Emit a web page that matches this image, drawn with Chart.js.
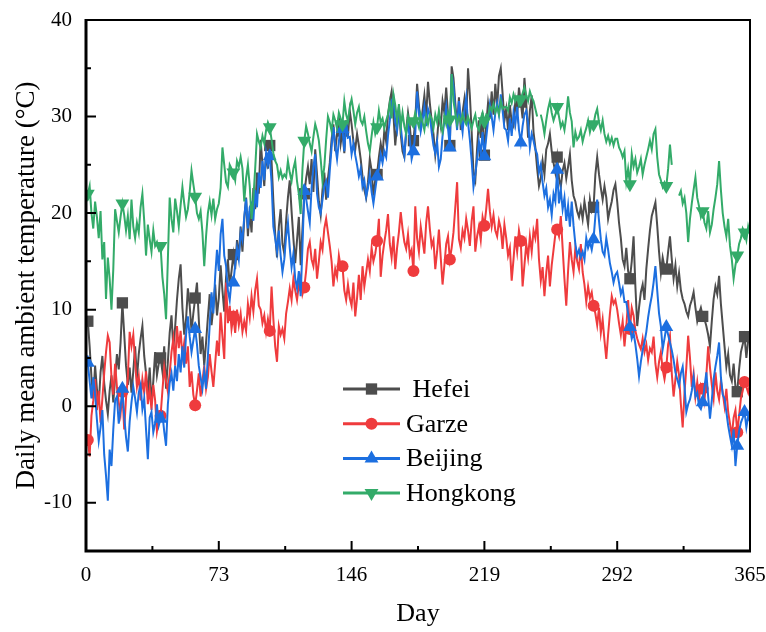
<!DOCTYPE html>
<html>
<head>
<meta charset="utf-8">
<title>Daily mean ambient temperature</title>
<script src="https://cdn.jsdelivr.net/npm/chart.js@4.4.1/dist/chart.umd.min.js"></script>
<style>
  html, body { margin: 0; padding: 0; background: #fff; }
</style>
</head>
<body>
<canvas id="tempChart" width="766" height="632"></canvas>
<script>
// Axis ticks
const dayTicks = [0, 73, 146, 219, 292, 365];
const tempTicks = [-10, 0, 10, 20, 30, 40];
// Days that carry a symbol on each curve
const markerDays = [1, 20, 41, 60, 81, 101, 120, 141, 160, 180, 200, 219, 239, 259, 279, 299, 319, 339, 358, 362];

// Daily mean temperature, day 1 .. 365 (°C)
const hefei = [
  8.8, 6.2, 3.0, 0.8, 4.2, 1.8, 0.2, 3.5, 5.2, 2.4,
  0.6, -0.8, 1.6, 3.2, 0.4, 2.9, 5.4, 3.8, 6.6, 10.7,
  7.5, 4.2, 2.2, 4.0, 1.4, 3.6, 6.2, 2.8, 5.4, 7.0,
  8.3, 5.2, 3.4, 1.2, 4.0, 0.4, 2.6, 5.6, 3.2, 4.4,
  5.0, 3.6, 6.2, 1.8, 4.6, 7.6, 9.4, 6.0, 8.2, 11.0,
  13.2, 14.7, 10.2, 7.4, 9.0, 12.2, 10.4, 7.8, 9.6, 11.2,
  12.8, 9.0, 5.4, 7.2, 4.2, 6.6, 9.2, 11.6, 8.4, 10.2,
  12.6, 9.4, 11.2, 14.6, 12.0, 9.8, 13.4, 15.2, 12.4, 14.0,
  15.7, 14.2, 17.2, 15.4, 18.6, 16.0, 19.4, 21.6, 17.6, 20.2,
  18.0, 22.6, 20.4, 24.2, 22.0, 27.6, 25.0, 22.8, 26.2, 24.6,
  27.0, 25.4, 21.2, 17.8, 15.4, 18.6, 20.4, 16.8, 15.8, 19.2,
  21.6, 23.4, 20.2, 17.4, 14.8, 17.2, 19.6, 14.6, 18.4, 22.0,
  23.6, 24.8, 23.0, 25.6, 22.2, 26.6, 24.0, 21.2, 19.8, 22.4,
  24.2, 21.4, 23.6, 25.2, 27.6, 29.2, 26.4, 28.2, 30.0, 27.2,
  28.5, 26.2, 29.6, 28.0, 30.6, 29.2, 27.4, 26.6, 28.2, 27.0,
  25.6, 23.8, 22.4, 21.6, 23.2, 25.6, 24.4, 21.8, 23.4, 24.0,
  25.8, 27.2, 26.0, 28.6, 27.4, 30.2, 31.6, 32.6, 30.2, 27.0,
  29.2, 31.0, 28.2, 26.4, 25.8, 28.6, 30.4, 29.0, 26.8, 27.5,
  29.6, 33.4, 31.2, 29.0, 30.6, 32.2, 30.0, 33.6, 31.4, 29.6,
  28.2, 26.0, 27.6, 30.2, 29.0, 31.6, 30.4, 33.0, 30.2, 27.0,
  35.2, 34.0, 31.4, 29.0, 32.0, 28.6, 30.4, 31.8, 29.2, 35.0,
  32.2, 28.4, 24.2, 23.4, 26.8, 29.6, 27.8, 30.4, 26.0, 29.2,
  31.4, 29.8, 32.6, 30.2, 33.4, 31.0, 34.2, 35.0, 32.4, 29.6,
  30.8, 28.6, 31.2, 29.4, 29.0, 31.6, 30.2, 33.0, 31.5, 29.8,
  34.0, 31.4, 27.8, 30.6, 32.2, 28.4, 26.8, 24.6, 22.8, 23.6,
  25.4, 24.0, 26.6, 27.2, 28.2, 26.4, 25.2, 24.2, 25.8, 23.6,
  22.7, 24.4, 25.2, 23.6, 24.8, 26.1, 23.4, 21.8, 21.2, 20.2,
  19.6, 20.6, 19.4, 21.2, 20.0, 18.8, 21.4, 20.2, 20.6, 24.0,
  25.8, 24.0, 22.6, 21.4, 22.8, 21.6, 19.4, 20.4, 21.2, 22.4,
  23.0, 21.2, 19.0, 17.4, 15.2, 14.5, 16.4, 14.0, 13.2, 15.0,
  17.6, 12.4, 8.3, 10.2, 11.8, 12.6, 11.0, 14.2, 16.3, 18.2,
  19.7, 20.4, 21.1, 18.7, 16.0, 13.8, 15.4, 14.4, 14.2, 16.0,
  17.6, 15.2, 13.2, 14.6, 12.4, 13.8, 12.0, 11.1, 10.6, 9.8,
  9.3, 10.4, 11.0, 11.8, 10.2, 8.8, 9.6, 10.2, 9.3, 9.0,
  8.3, 7.4, 6.2, 8.8, 11.1, 12.4, 11.6, 13.5, 10.6, 8.4,
  6.2, 4.1, 5.4, 3.2, 2.6, 4.4, 2.0, 1.5, 3.8, 5.6,
  6.4, 7.2, 5.0, 6.8, 7.0
];

const garze = [
  -3.5, -5.2, -1.0, 0.6, 2.8, -0.4, 1.6, -1.7, 0.8, 3.4,
  5.6, 7.3, 6.6, 3.0, 1.2, 4.4, 2.0, 0.4, -0.8, 1.5,
  -2.4, 0.8, 3.0, 7.7, 6.2, 7.4, 4.6, 2.0, 3.1, 0.6,
  2.8, 1.4, 3.6, 0.2, 1.8, -0.4, 2.2, 0.6, -2.6, -1.4,
  -1.0, 1.6, 4.0, 2.6, 1.5, 3.4, 5.6, 7.0, 4.2, 8.3,
  6.0, 7.8, 5.2, 6.6, 4.4, 6.2, 2.0, 3.6, 1.2, 0.1,
  1.6, 3.4, 1.0, 2.6, 4.2, 1.8, 3.0, 5.4, 3.6, 2.0,
  4.4, 6.8, 5.2, 9.7, 7.2, 4.9, 12.8, 8.6, 10.4, 8.0,
  9.3, 7.6, 10.0, 8.4, 9.6, 7.7, 8.8, 7.8, 10.6, 9.2,
  11.4, 9.8, 12.0, 13.2, 10.4, 10.0, 8.6, 9.4, 7.7, 9.0,
  7.8, 12.4, 9.0, 6.2, 4.6, 8.3, 7.4, 8.0, 7.0, 9.6,
  10.8, 12.2, 11.0, 13.2, 12.0, 11.0, 12.6, 13.4, 11.6, 12.3,
  14.0, 16.3, 17.0, 15.2, 14.5, 16.3, 13.2, 15.0, 17.0, 16.2,
  18.4, 19.4, 18.0, 16.6, 15.0, 12.4, 14.2, 13.4, 15.6, 14.4,
  14.5, 12.0, 11.0, 12.6, 11.2, 10.4, 12.8, 9.3, 11.2, 13.6,
  11.0, 14.5, 12.4, 13.8, 15.2, 14.0, 16.4, 15.0, 15.8, 17.1,
  19.4, 13.4, 15.6, 17.0, 18.2, 19.9, 16.8, 15.4, 17.6, 14.2,
  16.4, 18.0, 20.1, 18.4, 17.0, 16.3, 17.8, 15.6, 16.2, 14.0,
  20.7, 17.4, 16.0, 18.6, 17.2, 15.8, 19.0, 20.7, 18.4, 16.6,
  17.2, 14.2, 16.0, 18.3, 15.4, 12.6, 14.6, 16.8, 17.6, 15.2,
  16.4, 18.0, 20.6, 23.2, 17.3, 16.4, 18.2, 17.4, 19.4, 18.2,
  16.6, 19.2, 20.7, 16.0, 17.6, 18.6, 17.2, 19.6, 18.7, 20.4,
  22.5, 20.2, 18.6, 19.8, 18.2, 17.6, 19.2, 18.4, 16.3, 18.8,
  17.4, 15.6, 16.4, 13.0, 15.2, 17.6, 16.0, 18.2, 17.1, 12.4,
  14.6, 16.8, 15.4, 17.6, 16.0, 18.2, 17.4, 19.4, 15.2, 13.0,
  14.4, 11.4, 13.8, 15.6, 12.4, 14.6, 16.2, 17.8, 18.3, 17.6,
  19.7, 16.4, 13.2, 10.4, 14.0, 17.0, 15.2, 13.9, 16.4, 15.0,
  14.2, 16.8, 13.9, 12.6, 10.8, 12.4, 11.2, 11.8, 10.4, 9.6,
  8.4, 10.2, 7.6, 9.0, 6.8, 4.9, 7.4, 9.6, 11.4, 10.6,
  11.0, 10.0, 8.6, 7.4, 8.8, 6.2, 8.2, 11.0, 8.0, 10.2,
  9.4, 7.8, 7.0, 6.4, 5.9, 7.0, 5.6, 6.4, 4.8, 6.0,
  5.6, 7.2, 4.4, 3.0, 4.6, 5.6, 3.8, 2.8, 4.0, 6.4,
  7.3, 3.4, 1.0, 2.8, 4.6, 3.2, 0.2, -2.2, 1.4, 4.0,
  7.3, 5.0, 2.0, 3.4, 1.0, 2.5, 0.7, 2.2, 1.8, 0.6,
  3.2, 6.2, 4.0, 2.2, 0.8, 3.5, 1.6, 0.7, 2.6, 1.4,
  0.0, 1.8, -0.6, -1.8, -3.1, -1.2, -0.4, -2.7, -1.0, 0.8,
  1.6, 2.5, 2.0, 1.4, 2.4
];

const beijing = [
  4.5, 2.6, 0.8, 3.0, 1.2, -1.4, -3.6, -2.2, -0.4, -5.0,
  -7.2, -9.8, -4.5, -6.2, -2.4, 0.6, 1.0, -1.8, -0.2, 1.8,
  -1.0, -3.2, -4.7, -1.6, 0.4, 2.0, 0.8, -0.6, 1.4, 2.2,
  -0.3, 0.8, -2.4, -5.5, -1.2, -0.6, -2.7, -1.8, 0.2, -2.0,
  -1.3, -0.8, -2.6, -4.1, 0.2, 2.4, 3.4, 1.6, 4.2, 2.6,
  5.4, 3.5, 6.2, 4.0, 7.4, 9.3, 7.2, 5.6, 6.8, 8.0,
  6.4, 4.2, 3.0, 1.8, 3.6, 1.8, 5.2, 8.4, 11.8, 9.6,
  13.4, 16.2, 14.0, 17.8, 19.4, 15.6, 14.5, 12.0, 11.0, 13.0,
  12.8, 14.6, 16.4, 15.2, 18.0, 17.2, 19.6, 21.5, 18.4, 20.6,
  21.0, 19.2, 22.4, 20.6, 24.2, 22.6, 25.4, 23.4, 26.2, 25.0,
  25.9, 23.2, 18.6, 17.4, 16.0, 18.2, 15.6, 13.9, 15.2, 17.6,
  19.0, 16.4, 14.4, 15.8, 13.2, 12.2, 14.0, 11.4, 16.6, 22.3,
  21.5, 20.2, 19.0, 22.6, 24.8, 26.1, 22.0, 20.6, 20.0, 21.4,
  22.8, 23.3, 21.6, 24.4, 26.8, 28.9, 27.0, 25.6, 27.4, 29.0,
  28.7, 26.4, 29.5, 27.8, 27.9, 26.1, 27.2, 26.0, 25.0, 23.8,
  24.6, 22.7, 23.4, 21.7, 22.6, 24.0, 22.2, 21.0, 22.4, 23.8,
  24.6, 26.1, 25.2, 26.4, 25.8, 28.0, 29.6, 31.6, 32.0, 29.4,
  28.5, 30.4, 29.0, 27.2, 26.0, 28.2, 29.4, 27.6, 25.6, 26.4,
  28.2, 32.6, 30.4, 28.5, 29.6, 31.0, 29.0, 30.8, 30.2, 28.4,
  27.0, 26.2, 27.4, 24.8, 25.6, 28.0, 29.6, 31.0, 28.8, 26.8,
  34.4, 33.2, 30.6, 28.6, 31.6, 29.8, 28.4, 30.6, 32.0, 29.4,
  27.6, 25.4, 22.7, 24.0, 25.6, 27.4, 26.2, 28.4, 25.9, 27.8,
  29.5, 31.2, 30.0, 28.6, 30.4, 31.4, 30.2, 32.3, 30.6, 28.8,
  28.6, 27.5, 29.8, 28.0, 30.4, 29.2, 31.0, 28.6, 27.3, 29.0,
  30.2, 30.6, 29.4, 26.8, 28.2, 27.5, 26.6, 26.1, 24.2, 25.0,
  23.2, 21.8, 22.6, 20.6, 21.4, 19.8, 22.0, 21.2, 24.5, 21.0,
  22.4, 20.4, 21.6, 19.2, 20.8, 18.6, 21.2, 18.7, 16.8, 15.6,
  16.2, 15.4, 16.0, 15.2, 17.4, 16.4, 17.0, 16.2, 17.3, 19.7,
  21.4, 19.2, 17.3, 16.0, 15.6, 17.4, 16.2, 14.8, 13.9, 12.8,
  13.6, 13.9, 12.8, 11.6, 12.2, 10.8, 10.8, 9.6, 8.2, 7.0,
  7.6, 6.4, 4.9, 3.1, 4.6, 5.8, 6.6, 7.7, 9.2, 10.4,
  11.4, 12.8, 14.5, 12.0, 9.6, 8.3, 5.9, 7.0, 8.2, 7.4,
  6.6, 5.8, 4.8, 3.5, 2.8, 2.1, 3.4, 4.1, 2.0, -0.6,
  0.2, 0.7, 1.6, 3.0, 1.0, 1.4, 0.0, -0.3, 0.4, 2.0,
  3.5, 1.0, -1.3, 0.6, 2.8, 4.1, 5.2, 6.6, 3.0, 1.2,
  0.8, -0.6, -2.0, -3.1, -4.1, -2.4, -6.2, -4.1, -2.6, -1.7,
  -1.2, -0.6, -2.2, -1.0, -1.6
];

// null = missing record
const hongkong = [
  22.0, 22.8, 20.0, 18.4, 21.2, 19.6, 17.4, 20.2, 15.2, 17.0,
  11.1, 15.4, 13.2, 10.0, 14.2, 20.4, 19.2, 18.0, 19.6, 21.0,
  19.8, 18.2, 19.7, 17.3, 21.4, 18.6, 17.4, 19.0, 18.0, 20.6,
  22.0, 19.2, 15.6, 18.8, 17.3, 16.0, 18.2, 16.6, 17.0, 16.2,
  16.6, 13.4, 11.6, 9.0, 15.2, 21.6, 19.4, 18.0, 21.5, 20.2,
  18.6, 20.8, 22.7, 21.0, 19.6, 20.4, 22.2, 24.4, 23.0, 21.7,
  20.0, 19.4, 20.2, 18.0, 14.5, 17.6, 20.0, 21.2, 19.8, 21.5,
  19.4, 20.4, 21.0, 22.6, 26.8, 25.0, 23.2, 22.7, 25.0, 24.6,
  24.2, 23.4, 25.4, 24.8, 25.8, 24.6, 21.2, 23.6, 25.0, 22.8,
  19.4, 21.5, 24.6, 28.2, 27.4, 26.8, 28.0, 27.2, 28.6, 29.4,
  28.9, 27.6, 26.2, 25.4, 25.0, 23.7, 24.4, 23.6, 24.0, 23.7,
  25.4, 24.2, 23.3, 24.6, 25.4, 23.3, 22.0, 19.9, 24.6, 27.5,
  29.0, 28.2, 27.2, 26.4, 27.9, 29.2, 28.5, 27.5, 25.6, 23.3,
  24.8, 27.6, 30.0, 29.4, 28.5, 30.2, 29.6, 28.8, 30.4, 29.8,
  29.2, 31.6, 30.2, 29.5, 31.0, 31.8, 30.6, 29.2, 30.4, 31.0,
  29.6, 29.2, 30.0, 28.5, 27.2, 26.4, 28.0, 29.4, 28.2, 28.9,
  30.6, 29.4, 29.8, 28.8, 29.6, 30.2, 31.4, 29.8, 32.3, 31.2,
  29.6, 31.3, 28.9, 30.4, 29.0, 28.2, 30.0, 29.2, 29.5, 29.5,
  30.4, 29.6, 28.9, 30.2, 29.4, 28.6, 30.0, 29.2, 30.2, 29.8,
  28.8, 30.2, 29.4, 30.6, 29.0, 28.4, 30.0, 29.2, 30.4, 29.7,
  34.4, 31.6, 30.4, 29.2, 30.0, 29.4, 30.2, 29.6, 29.2, 30.0,
  29.4, 28.8, 29.6, 30.2, 29.0, 28.6, 29.8, 30.4, 29.5, 30.2,
  30.0, 31.0, 30.6, 31.3, 30.4, 31.0, 30.2, 31.6, 30.8, 31.0,
  31.0, 30.6, 32.0, 31.4, 32.3, 31.6, 32.0, 31.2, 31.8, 32.4,
  33.0, 32.2, 31.6, 32.6, 32.0, 31.6, 30.8, 30.0, null, 30.2,
  29.4, 28.2, 29.6, 30.8, 31.6, 30.4, 29.6, 30.2, 31.0, 30.0,
  28.9, 29.4, 28.6, 30.0, 32.1, 30.4, 29.5, 26.8, 28.4, 27.6,
  27.9, 28.6, 27.4, 28.2, 28.8, 29.6, 28.4, 29.2, 29.2, 30.2,
  30.8, 29.4, 28.6, 29.6, 28.2, 27.4, 28.0, 27.2, 27.8, 27.0,
  27.7, 27.7, 26.8, 26.4, 25.8, 26.4, 23.3, 24.6, 23.0, 26.1,
  24.8, 25.6, 24.2, 24.8, 25.6, 24.0, 25.0, 25.8, 26.6, 27.5,
  26.6, 28.2, 28.7, 25.8, 24.0, 23.4, 22.7, 23.2, 22.8, 24.6,
  27.1, 25.0, null, null, null, 21.8, 22.3, 21.0, 21.6, 20.0,
  17.0, 19.4, 21.0, 22.4, 23.7, 21.6, 20.7, 19.6, 20.2, 19.0,
  18.4, 20.2, 18.0, 18.8, 20.4, 21.6, 23.0, 25.4, 22.4, 20.0,
  18.6, 17.6, 19.4, 16.6, 15.2, 13.2, 14.6, 15.6, 16.8, 17.4,
  18.4, 18.0, 17.2, 18.6, 17.8
];

const serif = "'Liberation Serif', 'Times New Roman', serif";

function toPoints(values) {
  return values.map((v, i) => ({ x: i + 1, y: v }));
}

function markerRadius(r) {
  return ctx => markerDays.includes(ctx.dataIndex + 1) ? r : 0;
}

function cityDataset(label, values, color, style, size, rotation, order) {
  return {
    label: label,
    data: toPoints(values),
    borderColor: color,
    backgroundColor: color,
    borderWidth: 2,
    pointStyle: style,
    pointRotation: rotation,
    pointRadius: markerRadius(size),
    pointBorderWidth: 0,
    pointHoverRadius: 0,
    markerSize: size,
    spanGaps: false,
    tension: 0,
    order: order
  };
}

// keep the plot box fixed: no extra room for the tick labels
function fixBox(s) {
  s.paddingTop = 0;
  s.paddingBottom = 0;
  s.paddingLeft = 0;
  s.paddingRight = 0;
}

// frame, inward ticks and the legend box
const frameAndLegend = {
  id: 'frameAndLegend',
  afterDraw(chart) {
    const { ctx, chartArea: a, scales: { x, y } } = chart;
    ctx.save();
    ctx.strokeStyle = '#000';
    ctx.lineWidth = 2;
    ctx.beginPath();
    ctx.moveTo(a.left, a.top);
    ctx.lineTo(a.right, a.top);
    ctx.lineTo(a.right, a.bottom);
    ctx.stroke();

    ctx.lineWidth = 3;
    ctx.beginPath();
    ctx.moveTo(a.left, a.top - 1);
    ctx.lineTo(a.left, a.bottom);
    ctx.lineTo(a.right + 1, a.bottom);
    ctx.stroke();

    ctx.lineWidth = 2;
    ctx.beginPath();
    dayTicks.forEach((d, i) => {
      const px = x.getPixelForValue(d);
      ctx.moveTo(px, a.bottom);
      ctx.lineTo(px, a.bottom - 10);
      if (i < dayTicks.length - 1) {
        const mx = x.getPixelForValue((d + dayTicks[i + 1]) / 2);
        ctx.moveTo(mx, a.bottom);
        ctx.lineTo(mx, a.bottom - 5);
      }
    });
    tempTicks.forEach((t, i) => {
      const py = y.getPixelForValue(t);
      ctx.moveTo(a.left, py);
      ctx.lineTo(a.left + 10, py);
      const my = y.getPixelForValue(t - 5);
      ctx.moveTo(a.left, my);
      ctx.lineTo(a.left + 5, my);
    });
    ctx.stroke();

    const lx = a.left + 257;
    const ly = a.top + 369;
    ctx.font = '26px ' + serif;
    ctx.textBaseline = 'middle';
    ctx.textAlign = 'left';
    chart.data.datasets.forEach((ds, i) => {
      const ry = ly + i * 34.7;
      ctx.strokeStyle = ds.borderColor;
      ctx.lineWidth = 3;
      ctx.beginPath();
      ctx.moveTo(lx, ry);
      ctx.lineTo(lx + 57, ry);
      ctx.stroke();
      ctx.fillStyle = ds.borderColor;
      Chart.helpers.drawPoint(ctx, {
        pointStyle: ds.pointStyle,
        radius: ds.markerSize,
        rotation: ds.pointRotation || 0,
        borderWidth: 0
      }, lx + 28.5, ry);
      ctx.fillStyle = '#000';
      ctx.fillText(ds.label, lx + 63, ry + 1);
    });
    ctx.restore();
  }
};

const chart = new Chart(document.getElementById('tempChart'), {
  type: 'line',
  data: {
    datasets: [
      cityDataset(' Hefei', hefei, '#4d4d4d', 'rect', 8, 0, 4),
      cityDataset('Garze', garze, '#ef3b3d', 'circle', 6, 0, 3),
      cityDataset('Beijing', beijing, '#1c6fe0', 'triangle', 8, 0, 2),
      cityDataset('Hongkong', hongkong, '#33ab69', 'triangle', 8, 180, 1)
    ]
  },
  options: {
    responsive: false,
    animation: false,
    events: [],
    devicePixelRatio: 1,
    layout: { autoPadding: false, padding: { left: 0, top: 20, right: 16, bottom: 0 } },
    plugins: {
      legend: { display: false },
      tooltip: { enabled: false }
    },
    scales: {
      x: {
        type: 'linear',
        min: 0,
        max: 365,
        afterBuildTicks: s => { s.ticks = dayTicks.map(v => ({ value: v })); },
        afterFit: s => { s.height = 81; fixBox(s); },
        grid: { display: false, drawTicks: false },
        border: { display: false },
        ticks: { font: { family: serif, size: 21 }, color: '#000', padding: 12, maxRotation: 0 },
        title: { display: true, text: 'Day', font: { family: serif, size: 26 }, color: '#000', padding: { top: 0, bottom: 2 } }
      },
      y: {
        type: 'linear',
        min: -15,
        max: 40,
        afterBuildTicks: s => { s.ticks = tempTicks.map(v => ({ value: v })); },
        afterFit: s => { s.width = 86; fixBox(s); },
        grid: { display: false, drawTicks: false },
        border: { display: false },
        ticks: { font: { family: serif, size: 21 }, color: '#000', padding: 14 },
        title: { display: true, text: 'Daily mean ambient temperature (°C)', font: { family: serif, size: 27 }, color: '#000', padding: { top: 11, bottom: 0 } }
      }
    }
  },
  plugins: [frameAndLegend]
});
</script>
</body>
</html>
